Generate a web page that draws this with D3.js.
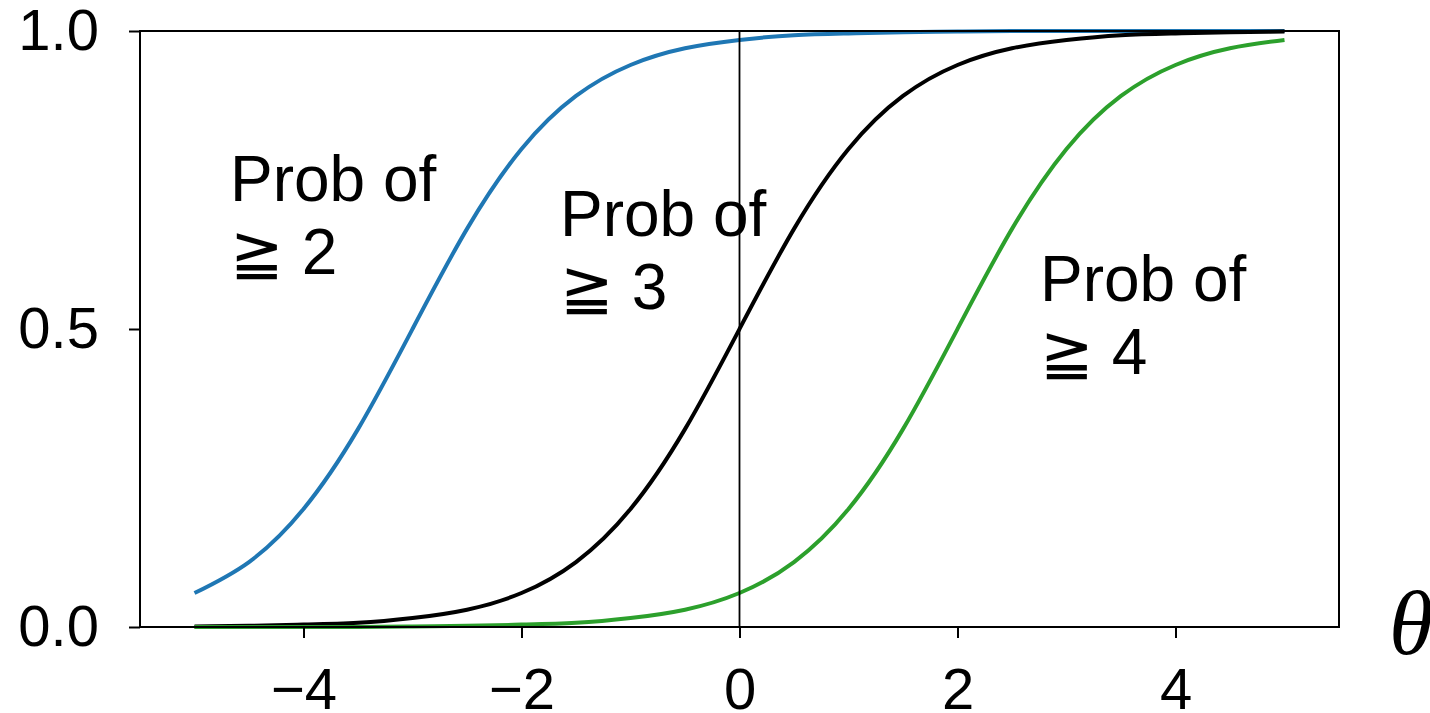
<!DOCTYPE html>
<html>
<head>
<meta charset="utf-8">
<script src="https://cdn.jsdelivr.net/npm/d3@7"></script>
<style>
  html, body { margin: 0; padding: 0; background: #fff; }
  svg { display: block; }
</style>
</head>
<body>
<svg id="chart" width="1430" height="713"></svg>
<script>
// Ability values (theta) at which the cumulative probabilities are sampled
const theta = [-5, -4.5, -4, -3.5, -3, -2.5, -2, -1.5, -1, -0.5, 0,
               0.5, 1, 1.5, 2, 2.5, 3, 3.5, 4, 4.5, 5];

// P(score >= 2)
const probGe2 = [0.057, 0.109, 0.198, 0.332, 0.500, 0.668, 0.802, 0.891, 0.943, 0.971, 0.985,
                 0.993, 0.996, 0.998, 0.999, 1.000, 1.000, 1.000, 1.000, 1.000, 1.000];
// P(score >= 3)
const probGe3 = [0.001, 0.002, 0.004, 0.007, 0.015, 0.029, 0.057, 0.109, 0.198, 0.332, 0.500,
                 0.668, 0.802, 0.891, 0.943, 0.971, 0.985, 0.993, 0.996, 0.998, 0.999];
// P(score >= 4)
const probGe4 = [0.000, 0.000, 0.000, 0.000, 0.001, 0.002, 0.004, 0.007, 0.015, 0.029, 0.057,
                 0.109, 0.198, 0.332, 0.500, 0.668, 0.802, 0.891, 0.943, 0.971, 0.985];

const seriesNames = ["Prob of\n≧ 2", "Prob of\n≧ 3", "Prob of\n≧ 4"];
const seriesColors = ["#1f77b4", "#000000", "#2ca02c"];

const xTicks = [-4, -2, 0, 2, 4];
const yTicks = [0.0, 0.5, 1.0];
const xDomain = [-5.5, 5.5];
const yDomain = [0, 1];

const svg = d3.select("#chart");
const plotLeft = 140, plotRight = 1339, plotTop = 31, plotBottom = 627;

const x = d3.scaleLinear().domain(xDomain).range([plotLeft, plotRight]);
const y = d3.scaleLinear().domain(yDomain).range([plotBottom, plotTop]);

const font = "'Liberation Sans', Arial, Helvetica, sans-serif";

// curves
const line = d3.line()
  .x((d, i) => x(theta[i]))
  .y(d => y(d))
  .curve(d3.curveNatural);

const plot = svg.append("g");
[probGe2, probGe3, probGe4].forEach((vals, k) => {
  plot.append("path")
    .datum(vals)
    .attr("d", line)
    .attr("fill", "none")
    .attr("stroke", seriesColors[k])
    .attr("stroke-width", 4)
    .attr("stroke-linecap", "butt");
});

// vertical reference line at theta = 0
svg.append("line")
  .attr("x1", x(0)).attr("x2", x(0))
  .attr("y1", y(0)).attr("y2", y(1))
  .attr("stroke", "#000").attr("stroke-width", 1.8);

// frame
svg.append("rect")
  .attr("x", plotLeft).attr("y", plotTop)
  .attr("width", plotRight - plotLeft).attr("height", plotBottom - plotTop)
  .attr("fill", "none").attr("stroke", "#000").attr("stroke-width", 2);

// axes
const xAxis = svg.append("g")
  .attr("transform", `translate(0,${plotBottom})`)
  .call(d3.axisBottom(x).tickValues(xTicks).tickSize(11).tickPadding(30).tickSizeOuter(0));
const yAxis = svg.append("g")
  .attr("transform", `translate(${plotLeft},0)`)
  .call(d3.axisLeft(y).tickValues(yTicks).tickFormat(d3.format(".1f")).tickSize(11).tickPadding(30).tickSizeOuter(0));

[xAxis, yAxis].forEach(g => {
  g.select(".domain").remove();
  g.selectAll(".tick line").attr("stroke", "#000").attr("stroke-width", 2);
  g.selectAll(".tick text")
    .attr("fill", "#000")
    .style("font-family", font)
    .style("font-size", "58px");
});

// curve labels
const labelPos = [[230, 201], [560, 236], [1040, 301]];
seriesNames.forEach((name, k) => {
  const t = svg.append("text")
    .attr("x", labelPos[k][0]).attr("y", labelPos[k][1])
    .style("font-family", font)
    .style("font-size", "64px")
    .attr("fill", "#000");
  name.split("\n").forEach((ln, j) => {
    t.append("tspan")
      .attr("x", labelPos[k][0])
      .attr("dy", j === 0 ? 0 : 73)
      .text(ln);
  });
});

// axis symbol
svg.append("text")
  .attr("x", 1411).attr("y", 654)
  .attr("text-anchor", "middle")
  .style("font-family", "'Liberation Serif', 'Times New Roman', serif")
  .style("font-style", "italic")
  .style("font-size", "90px")
  .attr("fill", "#000")
  .text("θ");
</script>
</body>
</html>
